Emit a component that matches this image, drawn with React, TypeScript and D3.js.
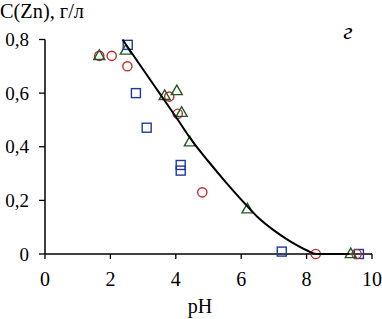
import React from "react";
import * as d3 from "d3";

const xTicks = [0, 2, 4, 6, 8, 10];
const yTicks = [0, 0.2, 0.4, 0.6, 0.8];
const yTickLabels = ["0", "0,2", "0,4", "0,6", "0,8"];

const squareX = [2.53, 2.78, 3.11, 4.15, 4.15, 7.24, 9.6];
const squareY = [0.78, 0.6, 0.471, 0.332, 0.311, 0.009, 0.0];

const circleX = [1.66, 2.04, 2.52, 3.8, 4.06, 4.81, 8.28, 9.53];
const circleY = [0.739, 0.739, 0.7, 0.587, 0.523, 0.23, 0.0, 0.0];

const triX = [1.66, 2.47, 3.66, 4.03, 4.18, 4.43, 6.19, 9.35];
const triY = [0.739, 0.759, 0.59, 0.608, 0.527, 0.417, 0.167, 0.0];

const fitX = [2.37, 3.0, 3.5, 4.0, 4.5, 5.0, 5.5, 6.0, 6.5, 7.0, 7.5, 8.0, 8.3, 9.3];
const fitY = [0.8, 0.688, 0.6, 0.512, 0.422, 0.345, 0.272, 0.203, 0.138, 0.088, 0.047, 0.014, 0.0, 0.0];

const W = 382;
const H = 319;
const FONT = "Liberation Serif";

export default function App() {
  const x = d3.scaleLinear().domain([0, 10]).range([45, 372]);
  const y = d3.scaleLinear().domain([0, 0.8]).range([254, 39.5]);

  const line = d3
    .line<number>()
    .x((d, i) => x(fitX[i]))
    .y((d, i) => y(fitY[i]))
    .curve(d3.curveMonotoneX);

  const blue = "#1f3a9e";
  const red = "#c42a2f";
  const green = "#1d5c22";
  const sq = 9;
  const triPath = (cx: number, cy: number) => {
    const s = 11;
    const h = s * 0.87;
    return `M${cx},${cy - h * 0.62}L${cx + s / 2},${cy + h * 0.38}L${cx - s / 2},${cy + h * 0.38}Z`;
  };

  const txt = { fontFamily: FONT, fill: "#000" } as const;

  return (
    <svg width={W} height={H} style={{ position: "absolute", left: 0, top: 0, background: "#fff" }}>
      <rect width={W} height={H} fill="#fff" />
      <line x1={x(0)} x2={x(10)} y1={y(0)} y2={y(0)} stroke="#000" strokeWidth={1.5} />
      <line x1={x(0)} x2={x(0)} y1={y(0)} y2={y(0.8)} stroke="#000" strokeWidth={1.5} />
      {xTicks.map((t) => (
        <g key={"xt" + t}>
          <line x1={x(t)} x2={x(t)} y1={y(0)} y2={y(0) + 5} stroke="#000" strokeWidth={1.3} />
          <text x={x(t)} y={286} fontSize={20} textAnchor="middle" style={txt}>
            {String(t)}
          </text>
        </g>
      ))}
      {yTicks.map((t, i) => (
        <g key={"yt" + t}>
          <line x1={x(0) - 6} x2={x(0)} y1={y(t)} y2={y(t)} stroke="#000" strokeWidth={1.3} />
          <text x={29} y={y(t) + 6.5} fontSize={19} textAnchor="end" style={txt}>
            {yTickLabels[i]}
          </text>
        </g>
      ))}
      {squareX.map((v, i) => (
        <rect
          key={"s" + i}
          x={x(v) - sq / 2}
          y={y(squareY[i]) - sq / 2}
          width={sq}
          height={sq}
          fill="none"
          stroke={blue}
          strokeWidth={1.4}
        />
      ))}
      {circleX.map((v, i) => (
        <circle key={"c" + i} cx={x(v)} cy={y(circleY[i])} r={4.6} fill="none" stroke={red} strokeWidth={1.4} />
      ))}
      {triX.map((v, i) => (
        <path key={"t" + i} d={triPath(x(v), y(triY[i]))} fill="none" stroke={green} strokeWidth={1.4} />
      ))}
      <path d={line(fitX) || ""} fill="none" stroke="#000" strokeWidth={2} />
      <text x={0} y={18} fontSize={20} textLength={84} lengthAdjust="spacingAndGlyphs" style={txt}>
        C(Zn), г/л
      </text>
      <text x={348} y={39} fontSize={24} fontStyle="italic" textAnchor="middle" style={txt}>
        г
      </text>
      <text x={200} y={313} fontSize={20} textAnchor="middle" style={txt}>
        pH
      </text>
    </svg>
  );
}
